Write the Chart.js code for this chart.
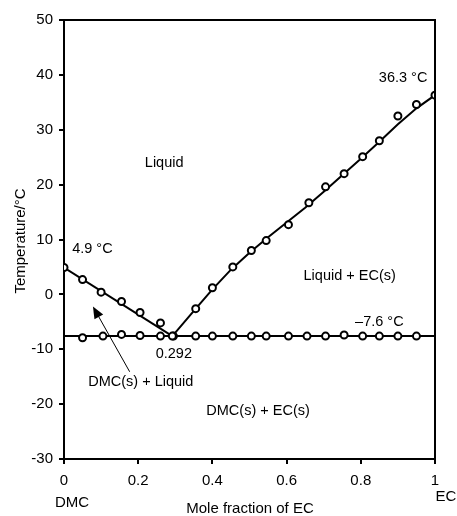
<!DOCTYPE html>
<html>
<head>
<meta charset="utf-8">
<script src="https://cdn.jsdelivr.net/npm/chart.js@4/dist/chart.umd.min.js"></script>
<style>
  html, body { margin: 0; padding: 0; background: #fff; }
  #wrap { width: 457px; height: 516px; }
</style>
</head>
<body>
<div id="wrap"><canvas id="grafica" width="457" height="516"></canvas></div>
<script>
// datos
const dmcX = [0, 0.05, 0.10, 0.155, 0.205, 0.26, 0.292];
const dmcT = [4.9, 2.7, 0.4, -1.3, -3.3, -5.2, -7.6];

const ecX = [0.355, 0.40, 0.455, 0.505, 0.545, 0.605, 0.66, 0.705, 0.755, 0.805, 0.85, 0.90, 0.95, 1.0];
const ecT = [-2.6, 1.2, 5.0, 8.0, 9.8, 12.7, 16.7, 19.6, 22.0, 25.1, 28.0, 32.5, 34.6, 36.3];

const solidX = [0.05, 0.105, 0.155, 0.205, 0.26, 0.295, 0.355, 0.40, 0.455, 0.505, 0.545, 0.605, 0.655, 0.705, 0.755, 0.805, 0.85, 0.90, 0.95];
const solidT = [-7.9, -7.6, -7.3, -7.5, -7.6, -7.6, -7.6, -7.6, -7.6, -7.6, -7.6, -7.6, -7.6, -7.6, -7.4, -7.6, -7.6, -7.6, -7.6];

// curvas ajustadas (trazadas sobre la figura)
const leftFitX = [0, 0.292];
const leftFitT = [4.9, -7.6];
const rightFitX = [0.292, 0.35, 0.40, 0.45, 0.50, 0.55, 0.60, 0.65, 0.70, 0.75, 0.80, 0.85, 0.90, 0.95, 1.0];
const rightFitT = [-7.6, -3.0, 0.9, 4.5, 7.6, 10.4, 13.1, 15.8, 18.7, 21.7, 24.7, 27.8, 31.0, 33.9, 36.3];
const solidFitX = [0, 1];
const solidFitT = [-7.6, -7.6];

const xTicks = [0, 0.2, 0.4, 0.6, 0.8, 1];
const yTicks = [-30, -20, -10, 0, 10, 20, 30, 40, 50];

function pts(xs, ys) {
  return xs.map((x, i) => ({ x: x, y: ys[i] }));
}

const FONT = '"Liberation Sans", Arial, sans-serif';

function puntos(xs, ys) {
  return {
    data: pts(xs, ys),
    showLine: false,
    pointRadius: 3.5,
    pointBorderWidth: 2,
    pointBorderColor: '#000',
    pointBackgroundColor: '#fff',
    order: 0
  };
}
function linea(xs, ys) {
  return {
    data: pts(xs, ys),
    showLine: true,
    borderColor: '#000',
    borderWidth: 2,
    pointRadius: 0,
    tension: 0,
    order: 1
  };
}

// textos dentro del grafico (coordenadas de datos)
const textos = [
  { t: 'Liquid', x: 0.27, y: 24.0, a: 'center' },
  { t: '4.9 \u00B0C', x: 0.022, y: 8.2, a: 'left' },
  { t: '36.3 \u00B0C', x: 0.914, y: 39.5, a: 'center' },
  { t: 'Liquid + EC(s)', x: 0.77, y: 3.3, a: 'center' },
  { t: '\u20137.6 \u00B0C', x: 0.85, y: -5.1, a: 'center' },
  { t: '0.292', x: 0.296, y: -10.9, a: 'center' },
  { t: 'DMC(s) + Liquid', x: 0.207, y: -16.0, a: 'center' },
  { t: 'DMC(s) + EC(s)', x: 0.523, y: -21.3, a: 'center' }
];

const extras = {
  id: 'extras',
  afterDraw(chart) {
    const c = chart.ctx;
    const xs = chart.scales.x, ys = chart.scales.y;
    const a = chart.chartArea;
    c.save();
    // marco superior y derecho
    c.strokeStyle = '#000';
    c.lineWidth = 2;
    c.beginPath();
    c.moveTo(a.left, a.top);
    c.lineTo(a.right, a.top);
    c.lineTo(a.right, a.bottom);
    c.stroke();

    c.fillStyle = '#000';
    c.textBaseline = 'middle';
    c.font = '14.5px ' + FONT;
    textos.forEach(o => {
      c.textAlign = o.a;
      c.fillText(o.t, xs.getPixelForValue(o.x), ys.getPixelForValue(o.y));
    });

    // flecha
    const x1 = xs.getPixelForValue(0.177), y1 = ys.getPixelForValue(-14.1);
    const x2 = xs.getPixelForValue(0.078), y2 = ys.getPixelForValue(-2.2);
    const ang = Math.atan2(y2 - y1, x2 - x1);
    c.lineWidth = 1;
    c.beginPath();
    c.moveTo(x1, y1);
    c.lineTo(x2 - 8 * Math.cos(ang), y2 - 8 * Math.sin(ang));
    c.stroke();
    c.beginPath();
    c.moveTo(x2, y2);
    c.lineTo(x2 - 12 * Math.cos(ang) + 5 * Math.sin(ang), y2 - 12 * Math.sin(ang) - 5 * Math.cos(ang));
    c.lineTo(x2 - 12 * Math.cos(ang) - 5 * Math.sin(ang), y2 - 12 * Math.sin(ang) + 5 * Math.cos(ang));
    c.closePath();
    c.fill();

    // textos de ejes
    c.textAlign = 'center';
    c.font = '15px ' + FONT;
    c.fillText('DMC', 72, 503);
    c.fillText('EC', 446, 497);
    c.fillText('Mole fraction of EC', 250, 509);
    c.translate(21, 241);
    c.rotate(-Math.PI / 2);
    c.fillText('Temperature/\u00B0C', 0, 0);
    c.restore();
  }
};

const ctx = document.getElementById('grafica').getContext('2d');
new Chart(ctx, {
  type: 'scatter',
  data: {
    datasets: [
      puntos(dmcX, dmcT),
      puntos(ecX, ecT),
      puntos(solidX, solidT),
      linea(leftFitX, leftFitT),
      linea(rightFitX, rightFitT),
      linea(solidFitX, solidFitT)
    ]
  },
  options: {
    responsive: false,
    animation: false,
    layout: { padding: { top: 20, right: 22, left: 0, bottom: 0 } },
    plugins: { legend: { display: false }, tooltip: { enabled: false } },
    scales: {
      x: {
        type: 'linear',
        min: 0, max: 1,
        afterFit(s) { s.height = 57; },
        afterBuildTicks(s) { s.ticks = xTicks.map(v => ({ value: v })); },
        border: { display: true, color: '#000', width: 2 },
        grid: { display: true, drawOnChartArea: false, drawTicks: true, tickLength: 5, color: '#000', lineWidth: 2 },
        ticks: {
          color: '#000', padding: 8,
          font: { family: FONT, size: 15 },
          callback: v => String(v)
        }
      },
      y: {
        type: 'linear',
        min: -30, max: 50,
        afterFit(s) { s.width = 64; },
        afterBuildTicks(s) { s.ticks = yTicks.map(v => ({ value: v })); },
        border: { display: true, color: '#000', width: 2 },
        grid: { display: true, drawOnChartArea: false, drawTicks: true, tickLength: 5, color: '#000', lineWidth: 2 },
        ticks: {
          color: '#000', padding: 6,
          font: { family: FONT, size: 15 },
          callback: v => String(v)
        }
      }
    }
  },
  plugins: [extras]
});
</script>
</body>
</html>
